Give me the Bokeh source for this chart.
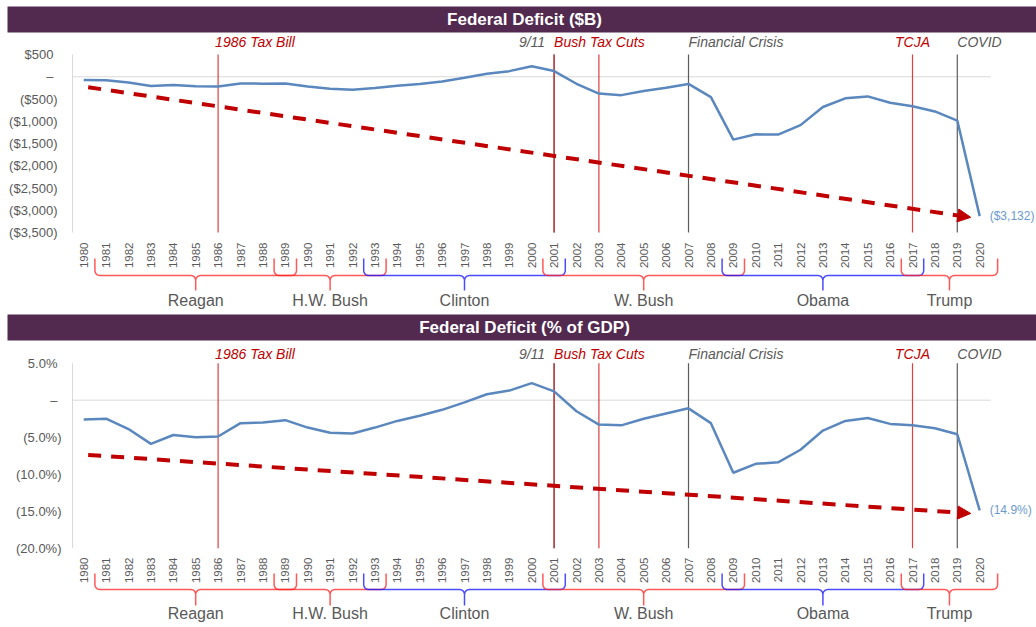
import numpy as np
from math import pi
from bokeh.plotting import figure
from bokeh.models import Range1d, Arrow, NormalHead
from bokeh.core.properties import value
from bokeh.embed import file_html
from bokeh.resources import INLINE

# ---------------- data ----------------
years = list(range(1980, 2021))
deficit_usd = [-74, -79, -128, -208, -185, -212, -221, -150, -155, -153,
               -221, -269, -290, -255, -203, -164, -107, -22, 69, 126,
               236, 128, -158, -378, -413, -318, -248, -161, -459, -1413,
               -1294, -1300, -1087, -680, -485, -442, -585, -665, -779, -984,
               -3132]
deficit_pct = [-2.6, -2.5, -3.9, -5.9, -4.7, -5.0, -4.9, -3.1, -3.0, -2.7,
               -3.7, -4.4, -4.5, -3.7, -2.8, -2.1, -1.3, -0.3, 0.8, 1.3,
               2.3, 1.2, -1.5, -3.3, -3.4, -2.5, -1.8, -1.1, -3.1, -9.8,
               -8.6, -8.4, -6.7, -4.1, -2.8, -2.4, -3.2, -3.4, -3.8, -4.6,
               -14.9]

usd_ticks = [500, 0, -500, -1000, -1500, -2000, -2500, -3000, -3500]
usd_tick_labels = ["$500", "–", "($500)", "($1,000)", "($1,500)", "($2,000)",
                   "($2,500)", "($3,000)", "($3,500)"]
pct_ticks = [5, 0, -5, -10, -15, -20]
pct_tick_labels = ["5.0%", "–", "(5.0%)", "(10.0%)", "(15.0%)", "(20.0%)"]

trend_x = [1980.2, 2019.6]
trend_usd = [-235, -3160]
trend_pct = [-7.4, -15.3]

event_line_years = [1986, 2001, 2001, 2003, 2007, 2017, 2019]
event_line_kind = ["policy", "shock", "policy", "policy", "shock", "policy", "shock"]
event_label_text = ["1986 Tax Bill", "9/11", "Bush Tax Cuts", "Financial Crisis", "TCJA", "COVID"]
event_label_year = [1986, 2001, 2001, 2007, 2017, 2019]
event_label_kind = ["policy", "shock", "policy", "shock", "policy", "shock"]

presidents = ["Reagan", "H.W. Bush", "Clinton", "W. Bush", "Obama", "Trump"]
term_start = [1980.5, 1988.5, 1992.5, 2000.5, 2008.5, 2016.5]
term_end = [1989.5, 1993.5, 2001.5, 2009.5, 2017.5, 2020.8]
party = ["R", "R", "D", "R", "D", "R"]

titles = ["Federal Deficit ($B)", "Federal Deficit (% of GDP)"]

# ---------------- style / layout ----------------
FONT = "Liberation Sans"
PURPLE = "#52294F"
BLUE = "#5A87BD"
LABEL_BLUE = "#6C9AD0"
TREND_RED = "#C00000"
TEXT_GRAY = "#595959"
EV_COLORS = {"policy": "#D42020", "shock": "#404040"}
EV_TEXT = {"policy": "#C00000", "shock": "#595959"}
PARTY_COLORS = {"R": "#FF2020", "D": "#1010FF"}
W, H = 1036, 627
AXIS_PX = 72
PX_PER_YEAR = 22.4
X0 = years[0] - 0.5
XL = X0 - AXIS_PX / PX_PER_YEAR
XR = X0 + (W - AXIS_PX) / PX_PER_YEAR


def px_x(px):
    return XL + px / PX_PER_YEAR


p = figure(width=W, height=H, x_range=Range1d(XL, XR), y_range=Range1d(H, 0),
           toolbar_location=None, output_backend="svg",
           x_axis_location=None, y_axis_location=None, min_border=0,
           outline_line_color=None, background_fill_color="white",
           border_fill_color="white")
p.xgrid.visible = False
p.ygrid.visible = False


def brace_path(xa, xb, T, Hh, P, rx=0.22, ry=5.0):
    xc = (xa + xb) / 2
    t = np.linspace(0, pi / 2, 7)
    xs = [xa]
    ys = [T]
    xs += list(xa + rx - rx * np.cos(t)); ys += list(Hh - ry + ry * np.sin(t))
    xs += list(xc - rx + rx * np.sin(t)); ys += list(Hh + ry - ry * np.cos(t))
    xs += [xc, xc]; ys += [P, Hh + ry]
    xs += list(xc + rx - rx * np.cos(t)); ys += list(Hh + ry - ry * np.sin(t))
    xs += list(xb - rx + rx * np.sin(t)); ys += list(Hh - ry + ry * np.cos(t))
    xs += [xb]; ys += [T]
    return xs, ys


def panel(name, title, vals, ticks, tick_labels, trend_y, end_label,
          bar_top, bar_bot, top_px, bot_px, ev_y, year_y,
          brace_t, brace_h, brace_p, pres_y, standoff):
    ymax, ymin = ticks[0], ticks[-1]
    s = (ymax - ymin) / (bot_px - top_px)
    p.extra_y_ranges[name] = Range1d(ymin - (H - bot_px) * s, ymax + top_px * s)

    # title bar
    p.quad(left=[px_x(7)], right=[px_x(W + 2)], top=[bar_top], bottom=[bar_bot],
           fill_color=PURPLE, line_color=None)
    p.text(x=[px_x(524)], y=[(bar_top + bar_bot) / 2], text=[title],
           text_font=value(FONT), text_font_style="bold",
           text_font_size="17px", text_color="white",
           text_align="center", text_baseline="middle")

    # y axis line + tick labels (accounting-style alignment)
    p.segment(x0=[X0], y0=[ymin], x1=[X0], y1=[ymax], line_color="#D9D9D9",
              line_width=1, y_range_name=name)
    offs = [-standoff - (0 if lab.endswith(")") else 4) for lab in tick_labels]
    p.text(x=[X0] * len(ticks), y=ticks, text=tick_labels, x_offset=offs,
           y_range_name=name, text_font=value(FONT), text_font_size="13px",
           text_color=TEXT_GRAY, text_align="right", text_baseline="middle")

    # zero line
    p.segment(x0=[years[0] - 0.5], y0=[0], x1=[years[-1] + 0.5], y1=[0],
              line_color="#D9D9D9", line_width=1, y_range_name=name)

    # event lines
    for ey, k in zip(event_line_years, event_line_kind):
        p.segment(x0=[ey], y0=[ymax], x1=[ey], y1=[ymin], y_range_name=name,
                  line_color=EV_COLORS[k], line_width=1.2, line_alpha=0.85)

    # event labels
    for txt, ey, k in zip(event_label_text, event_label_year, event_label_kind):
        if txt == "9/11":
            align, off = "right", -9
        elif txt == "TCJA":
            align, off = "center", 0
        elif txt == "1986 Tax Bill":
            align, off = "left", -3
        else:
            align, off = "left", 0
        p.text(x=[ey], y=[ev_y], text=[txt], x_offset=off,
               text_font=value(FONT), text_font_style="italic",
               text_font_size="14px", text_color=EV_TEXT[k],
               text_align=align, text_baseline="middle")

    # trend arrow
    p.add_layout(Arrow(end=NormalHead(size=13, fill_color=TREND_RED,
                                      line_color=TREND_RED, line_width=1),
                       x_start=trend_x[0], y_start=trend_y[0],
                       x_end=trend_x[1], y_end=trend_y[1], y_range_name=name,
                       line_color=TREND_RED, line_width=4, line_dash="13 10"))

    # data line + end label
    p.line(years, vals, line_color=BLUE, line_width=2.5, y_range_name=name)
    p.text(x=[years[-1]], y=[vals[-1]], text=[end_label], x_offset=10,
           y_range_name=name, text_font=value(FONT), text_font_size="12px",
           text_color=LABEL_BLUE, text_align="left", text_baseline="middle")

    # year labels
    p.text(x=years, y=[year_y] * len(years), text=[str(y) for y in years],
           angle=pi / 2, text_font=value(FONT),
           text_font_size="11.5px", text_color=TEXT_GRAY,
           text_align="right", text_baseline="middle")

    # braces
    bxs, bys, bcs = [], [], []
    for a, b, pt in zip(term_start, term_end, party):
        xs, ys = brace_path(a, b, brace_t, brace_h, brace_p)
        bxs.append(xs); bys.append(ys); bcs.append(PARTY_COLORS[pt])
    p.multi_line(xs=bxs, ys=bys, line_color=bcs, line_width=1.5, line_alpha=0.75)
    p.text(x=[(a + b) / 2 for a, b in zip(term_start, term_end)],
           y=[pres_y] * len(presidents), text=presidents,
           text_font=value(FONT), text_font_size="16px", text_color=TEXT_GRAY,
           text_align="center", text_baseline="middle")


p.extra_y_ranges = {}
panel("usd", titles[0], deficit_usd, usd_ticks, usd_tick_labels, trend_usd,
      "(${:,.0f})".format(abs(deficit_usd[-1])),
      bar_top=6, bar_bot=32, top_px=54, bot_px=232, ev_y=41, year_y=242,
      brace_t=258, brace_h=275, brace_p=290, pres_y=300, standoff=15)
panel("pct", titles[1], deficit_pct, pct_ticks, pct_tick_labels, trend_pct,
      "({:.1f}%)".format(abs(deficit_pct[-1])),
      bar_top=314, bar_bot=340, top_px=362.7, bot_px=547.7, ev_y=353, year_y=557,
      brace_t=573, brace_h=589, brace_p=605, pres_y=613, standoff=11)

open("out.html", "w").write(file_html(p, INLINE))
